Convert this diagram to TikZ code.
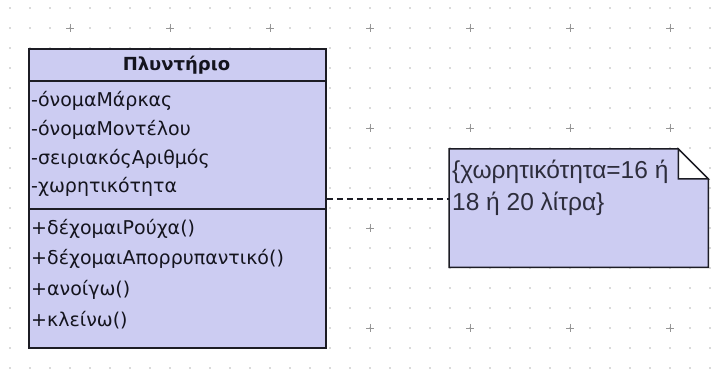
\documentclass[tikz,border=0pt]{standalone}
\usepackage{fontspec}
\setmainfont{DejaVu Sans}
\newfontfamily\notefont{Liberation Sans}
\definecolor{umlfill}{RGB}{204,204,242}
\definecolor{umledge}{RGB}{28,28,36}
\definecolor{umltext}{RGB}{20,20,30}
\definecolor{notetext}{RGB}{45,45,60}
\definecolor{griddot}{RGB}{218,218,218}
\definecolor{gridcross}{RGB}{150,150,150}
\tikzset{
  classbox/.style={draw=umledge, fill=umlfill, line width=1.8pt, inner sep=0pt, anchor=north west},
  member/.style={anchor=west, inner sep=0pt, text=umltext, font=\fontsize{19}{22}\selectfont},
  classname/.style={inner sep=0pt, text=umltext, font=\fontsize{18}{21}\selectfont\bfseries},
  notebox/.style={inner sep=0pt, anchor=north west},
  noteline/.style={anchor=west, inner sep=0pt, text=notetext, font=\notefont\fontsize{24.5}{28}\selectfont},
  sepline/.style={draw=umledge, line width=1.8pt},
  link/.style={draw=umledge, line width=1.3pt, dash pattern=on 6pt off 4pt},
}
\begin{document}
\begin{tikzpicture}[x=1pt,y=-1pt]
\useasboundingbox (0,0) rectangle (721,371);
\fill[white] (0,0) rectangle (721,371);
% dotted canvas grid
\foreach \i in {0,...,35}
  \foreach \j in {0,...,18}
    \fill[griddot] (9+20*\i,7+20*\j) rectangle ++(2,2);
% major grid crosses
\foreach \i in {0,...,6}
  \foreach \j in {0,...,3}
    \draw[gridcross, line width=0.9pt] (66+100*\i,28+100*\j) -- ++(8,0)
      (70+100*\i,24+100*\j) -- ++(0,8);

% class Πλυντήριο
\node[classbox, minimum width=297pt, minimum height=299pt] (cls) at (28,48) {};
\node[classname] (title) at (176.5,65) {Πλυντήριο};
\draw[sepline] (cls.west |- 0,81) -- (cls.east |- 0,81);
\draw[sepline] (cls.west |- 0,209) -- (cls.east |- 0,209);
\node[member] (a1) at (31,101) {-όνομαΜάρκας};
\node[member] (a2) at (31,130) {-όνομαΜοντέλου};
\node[member] (a3) at (31,159) {-σειριακόςΑριθμός};
\node[member] (a4) at (31,187) {-χωρητικότητα};
\node[member] (m1) at (31,229) {+δέχομαιΡούχα()};
\node[member] (m2) at (31,259) {+δέχομαιΑπορρυπαντικό()};
\node[member] (m3) at (31,290) {+ανοίγω()};
\node[member] (m4) at (31,320) {+κλείνω()};

% constraint note with folded corner
\node[notebox, minimum width=259pt, minimum height=118pt] (note) at (449,149) {};
\filldraw[fill=umlfill, draw=umledge, line width=1.5pt, line join=miter]
  (note.north west) -- ([xshift=-30pt]note.north east)
  -- ([yshift=-30pt]note.north east) -- (note.south east)
  -- (note.south west) -- cycle;
\filldraw[fill=white, draw=umledge, line width=1.5pt]
  ([xshift=-30pt]note.north east) -- ([xshift=-30pt,yshift=-30pt]note.north east)
  -- ([yshift=-30pt]note.north east) -- cycle;
\node[noteline] (n1) at (452,172) {\{χωρητικότητα=16 ή};
\node[noteline] (n2) at (452,204) {18 ή 20 λίτρα\}};

% dashed attachment from class to note
\coordinate (attach) at (cls.east |- 0,199);
\draw[link] (attach) -- (note.west |- attach);
\end{tikzpicture}
\end{document}
